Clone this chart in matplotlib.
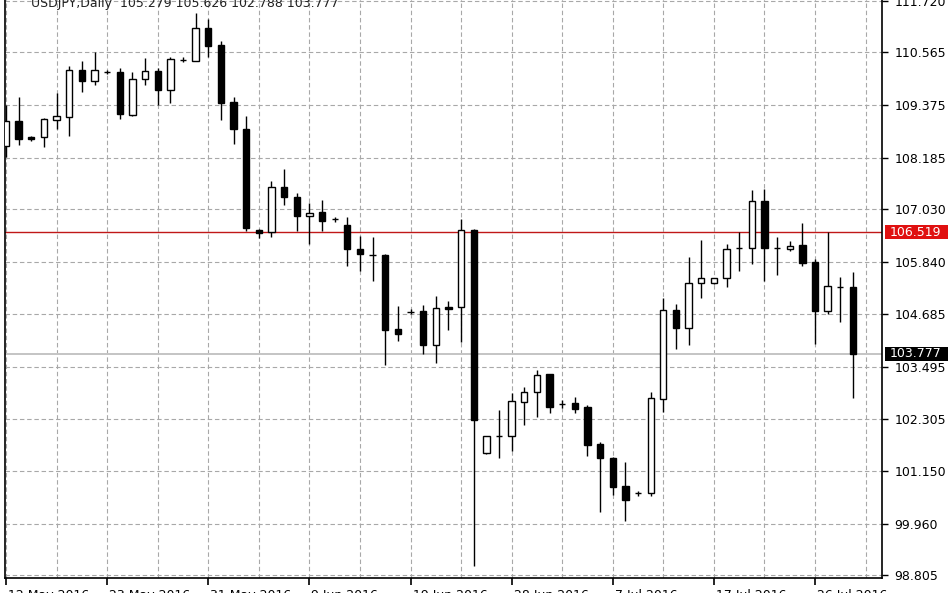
import matplotlib
matplotlib.use("Agg")
import matplotlib.pyplot as plt
import matplotlib.transforms as mtransforms
from matplotlib.patches import Rectangle
import numpy as np

# ---- data (USDJPY daily) ----
opens = [108.45, 109.03, 108.66, 108.66, 109.05, 109.11, 110.16, 109.93, 110.13, 110.12,
         109.16, 109.96, 110.15, 109.71, 110.40, 110.38, 111.11, 110.72, 109.45, 108.84,
         106.57, 106.52, 107.53, 107.32, 106.88, 106.97, 106.81, 106.67, 106.15, 106.00,
         106.01, 104.34, 104.73, 104.74, 103.97, 104.84, 104.83, 106.56, 101.56, 101.93,
         101.93, 102.70, 102.92, 103.32, 102.66, 102.68, 102.59, 101.76, 101.44, 100.81,
         100.64, 100.64, 102.77, 104.77, 104.37, 105.37, 105.37, 105.48, 106.16, 106.16,
         107.22, 106.16, 106.14, 106.23, 105.84, 104.74, 105.29, 105.279]
highs = [109.39, 109.56, 108.69, 109.09, 109.64, 110.26, 110.37, 110.58, 110.17, 110.22,
         110.12, 110.43, 110.22, 110.45, 110.45, 111.44, 111.32, 110.81, 109.57, 109.13,
         106.59, 107.67, 107.93, 107.39, 107.18, 107.24, 106.87, 106.86, 106.43, 106.40,
         106.03, 104.85, 104.78, 104.88, 105.09, 104.98, 106.82, 106.60, 101.94, 102.51,
         102.91, 103.04, 103.42, 103.33, 102.74, 102.81, 102.62, 101.79, 101.46, 101.34,
         100.70, 102.92, 105.03, 104.90, 105.95, 106.34, 105.49, 106.25, 106.52, 107.47,
         107.50, 106.40, 106.32, 106.72, 105.91, 106.52, 105.52, 105.626]
lows = [108.22, 108.47, 108.56, 108.44, 108.83, 108.68, 109.67, 109.82, 110.07, 109.07,
        109.13, 109.82, 109.39, 109.43, 110.35, 110.36, 110.46, 109.05, 108.51, 106.55,
        106.38, 106.42, 107.12, 106.55, 106.25, 106.55, 106.74, 105.75, 105.64, 105.43,
        103.54, 104.08, 104.67, 103.78, 103.58, 104.32, 104.05, 99.00, 101.53, 101.43,
        101.59, 102.19, 102.36, 102.44, 102.57, 102.45, 101.49, 100.22, 100.61, 100.02,
        100.58, 100.58, 102.48, 103.89, 103.97, 105.03, 105.36, 105.28, 105.64, 105.80,
        105.41, 105.55, 106.10, 105.75, 104.01, 104.68, 104.49, 102.788]
closes = [109.01, 108.62, 108.62, 109.07, 109.13, 110.16, 109.93, 110.16, 110.12, 109.18,
          109.97, 110.15, 109.71, 110.41, 110.40, 111.11, 110.70, 109.43, 108.83, 106.62,
          106.51, 107.53, 107.31, 106.88, 106.96, 106.77, 106.81, 106.14, 106.03, 106.00,
          104.32, 104.22, 104.73, 103.97, 104.81, 104.78, 106.56, 102.29, 101.94, 101.93,
          102.71, 102.92, 103.30, 102.59, 102.66, 102.55, 101.73, 101.43, 100.79, 100.49,
          100.64, 102.79, 104.77, 104.37, 105.37, 105.48, 105.48, 106.15, 106.16, 107.22,
          106.16, 106.16, 106.21, 105.82, 104.74, 105.30, 105.29, 103.777]

date_labels = ["12 May 2016", "23 May 2016", "31 May 2016", "9 Jun 2016", "19 Jun 2016",
               "28 Jun 2016", "7 Jul 2016", "17 Jul 2016", "26 Jul 2016"]
date_label_bars = [0, 8, 16, 24, 32, 40, 48, 56, 64]
price_ticks = [111.720, 110.565, 109.375, 108.185, 107.030, 105.840,
               104.685, 103.495, 102.305, 101.150, 99.960, 98.805]
price_tick_labels = ["111.720", "110.565", "109.375", "108.185", "107.030", "105.840",
                     "104.685", "103.495", "102.305", "101.150", "99.960", "98.805"]
level_red = 106.519
bid_price = 103.777
header = "USDJPY,Daily  105.279 105.626 102.788 103.777"

# ---- figure ----
W, H = 948, 593
fig = plt.figure(figsize=(W / 100, H / 100), dpi=100)
plt.rcParams['font.family'] = ['DejaVu Sans']

left_px, right_px, bottom_px, top_px = 4.5, 882, 578, -12
ax = fig.add_axes([left_px / W, (H - bottom_px) / H,
                   (right_px - left_px) / W, (bottom_px - top_px) / H])

x = np.arange(len(opens))
o = np.array(opens); c = np.array(closes)
hi = np.array(highs); lo = np.array(lows)
up = c >= o

# wicks
ax.vlines(x, lo, hi, color='black', linewidth=1.0, zorder=3)
# bodies
bw = 0.5
bottoms = np.minimum(o, c)
heights = np.abs(c - o)
ax.bar(x[up], heights[up], bottom=bottoms[up], width=bw, facecolor='white',
       edgecolor='black', linewidth=1.0, zorder=4)
ax.bar(x[~up], heights[~up], bottom=bottoms[~up], width=bw, facecolor='black',
       edgecolor='black', linewidth=1.0, zorder=4)

# level lines
ax.axhline(level_red, color='#c01818', linewidth=1.0, zorder=2)
ax.axhline(bid_price, color='#c4c4c4', linewidth=1.4, zorder=2)

# scales
px_per_unit = 44.44
ax.set_ylim(111.72 - (bottom_px - 1) / px_per_unit, 111.72 + (1 - top_px) / px_per_unit)
ax.set_xlim(-0.12, 69.3)

ax.yaxis.tick_right()
ax.set_yticks(price_ticks)
ax.set_yticklabels(price_tick_labels)
ax.tick_params(axis='y', which='major', direction='out', length=4, width=1,
               pad=5, labelsize=9, colors='black', left=False, right=True)

ax.set_xticks(date_label_bars)
ax.set_xticklabels(date_labels, ha='left')
ax.set_xticks([b + 4 for b in date_label_bars], minor=True)
ax.tick_params(axis='x', which='major', direction='out', length=5, width=1.2,
               pad=3, labelsize=9)
ax.tick_params(axis='x', which='minor', length=0)
for lbl in ax.get_xticklabels():
    lbl.set_transform(lbl.get_transform() + mtransforms.ScaledTranslation(2 / 100, 0, fig.dpi_scale_trans))

# grid
ax.set_axisbelow(True)
grid_kw = dict(color='#a8a8a8', linewidth=0.8, linestyle=(0, (4, 2.5)))
ax.grid(True, which='major', axis='y', **grid_kw)
ax.grid(True, which='both', axis='x', **grid_kw)

for s in ['left', 'right', 'bottom']:
    ax.spines[s].set_color('black')
    ax.spines[s].set_linewidth(1.2)
ax.spines['top'].set_visible(False)

# price boxes on the right scale
blend = mtransforms.blended_transform_factory(fig.transFigure, ax.transData)
box_h = 14 / px_per_unit
for price, col in [(level_red, '#e01010'), (bid_price, '#000000')]:
    r = Rectangle((885 / W, price - box_h / 2), (W - 885) / W, box_h,
                  transform=blend, facecolor=col, edgecolor='none', clip_on=False, zorder=10)
    fig.add_artist(r)
    fig.text(890 / W, 0, f"{price:.3f}", transform=blend, color='white', fontsize=9,
             va='center', ha='left', zorder=11)
    fig.texts[-1].set_position((890 / W, price))

# header text (partly cut at the top)
fig.text(31 / W, 1 - 6.5 / H, header, fontsize=9, color='#202020', va='baseline', ha='left')

fig.savefig("out.png", dpi=100)
